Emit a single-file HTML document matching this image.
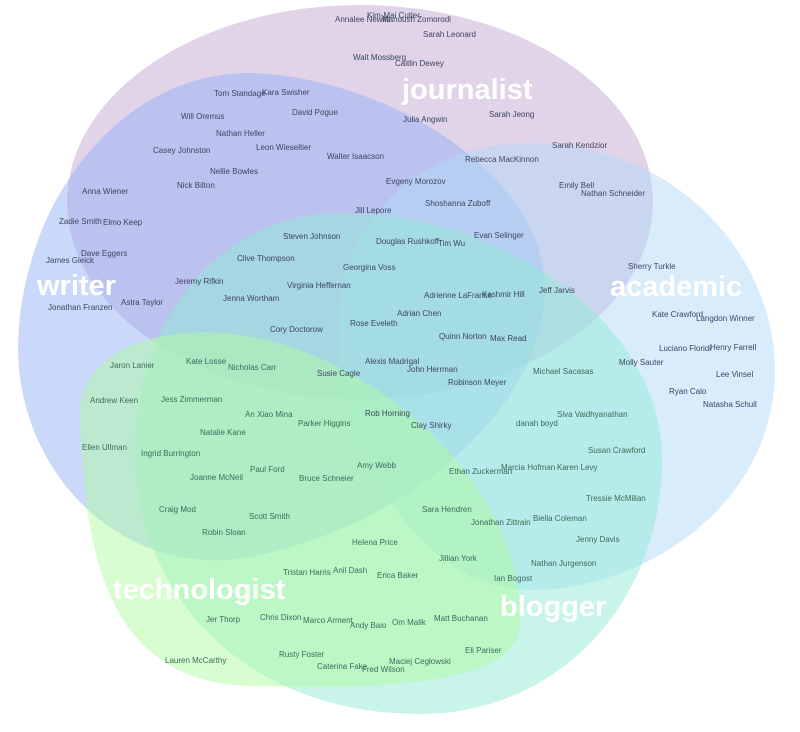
<!DOCTYPE html>
<html><head><meta charset="utf-8"><style>
html,body{margin:0;padding:0;background:#fff;}
svg{display:block;}
text{font-family:"Liberation Sans",sans-serif;}
.n{font-size:8px;fill:#3d4560;}
.g{font-size:8px;fill:#3d6a5a;}
.L{font-size:29px;font-weight:bold;fill:#fff;}
</style></head><body>
<svg width="800" height="732" viewBox="0 0 800 732" xmlns="http://www.w3.org/2000/svg">
<g fill-opacity="0.5">
<ellipse cx="360" cy="202" rx="293" ry="197" fill="rgb(195,168,210)"/>
<path d="M18,350 C18,290 38,225 67,182 C110,115 175,73 250,73 C380,76 545,170 545,290 C545,400 420,520 260,555 C130,585 20,480 18,350 Z" fill="rgb(150,178,246)"/>
<path d="M338,330 C338,220 420,143 530,143 C680,143 775,260 775,370 C775,500 650,590 530,590 C420,590 338,450 338,330 Z" fill="rgb(179,217,247)"/>
<path d="M135,450 C135,320 220,213 340,213 C500,213 662,320 662,460 C662,600 560,714 420,714 C250,714 135,600 135,450 Z" fill="rgb(145,233,213)"/>
<path d="M80,420 C75,340 190,310 300,350 C420,395 525,510 520,625 C515,690 360,688 250,686 C110,682 85,560 80,420 Z" fill="rgb(175,251,161)"/>
</g>
<text class="L" x="402" y="99">journalist</text>
<text class="L" x="37" y="295">writer</text>
<text class="L" x="610" y="296">academic</text>
<text class="L" x="113" y="599">technologist</text>
<text class="L" x="500" y="616">blogger</text>
<g class="n">
<text x="367" y="18">Kim-Mai Cutler</text>
<text x="335" y="22">Annalee Newitz</text>
<text x="382" y="22">Manoush Zomorodi</text>
<text x="423" y="37">Sarah Leonard</text>
<text x="353" y="60">Walt Mossberg</text>
<text x="395" y="66">Caitlin Dewey</text>
<text x="214" y="96">Tom Standage</text>
<text x="262" y="95">Kara Swisher</text>
<text x="292" y="115">David Pogue</text>
<text x="181" y="119">Will Oremus</text>
<text x="403" y="122">Julia Angwin</text>
<text x="489" y="117">Sarah  Jeong</text>
<text x="216" y="136">Nathan Heller</text>
<text x="153" y="153">Casey Johnston</text>
<text x="256" y="150">Leon Wieseltier</text>
<text x="327" y="159">Walter Isaacson</text>
<text x="465" y="162">Rebecca MacKinnon</text>
<text x="552" y="148">Sarah Kendzior</text>
<text x="210" y="174">Nellie Bowles</text>
<text x="177" y="188">Nick Bilton</text>
<text x="386" y="184">Evgeny Morozov</text>
<text x="559" y="188">Emily Bell</text>
<text x="581" y="196">Nathan  Schneider</text>
<text x="82" y="194">Anna Wiener</text>
<text x="425" y="206">Shoshanna Zuboff</text>
<text x="355" y="213">Jill Lepore</text>
<text x="59" y="224">Zadie Smith</text>
<text x="103" y="225">Elmo Keep</text>
<text x="283" y="239">Steven Johnson</text>
<text x="474" y="238">Evan Selinger</text>
<text x="376" y="244">Douglas Rushkoff</text>
<text x="438" y="246">Tim Wu</text>
<text x="81" y="256">Dave Eggers</text>
<text x="46" y="263">James Gleick</text>
<text x="237" y="261">Clive Thompson</text>
<text x="343" y="270">Georgina Voss</text>
<text x="628" y="269">Sherry Turkle</text>
<text x="175" y="284">Jeremy Rifkin</text>
<text x="287" y="288">Virginia Heffernan</text>
<text x="539" y="293">Jeff Jarvis</text>
<text x="424" y="298">Adrienne LaFrance</text>
<text x="482" y="297">Kashmir Hill</text>
<text x="223" y="301">Jenna Wortham</text>
<text x="121" y="305">Astra Taylor</text>
<text x="48" y="310">Jonathan Franzen</text>
<text x="652" y="317">Kate Crawford</text>
<text x="696" y="321">Langdon Winner</text>
<text x="397" y="316">Adrian Chen</text>
<text x="350" y="326">Rose Eveleth</text>
<text x="270" y="332">Cory Doctorow</text>
<text x="439" y="339">Quinn Norton</text>
<text x="490" y="341">Max Read</text>
<text x="659" y="351">Luciano Floridi</text>
<text x="710" y="350">Henry Farrell</text>
<text x="365" y="364">Alexis Madrigal</text>
<text x="407" y="372">John Herrman</text>
<text x="317" y="376">Susie Cagle</text>
<text x="619" y="365">Molly Sauter</text>
<text x="716" y="377">Lee Vinsel</text>
<text x="448" y="385">Robinson Meyer</text>
<text x="669" y="394">Ryan Calo</text>
<text x="703" y="407">Natasha Schull</text>
<text x="365" y="416">Rob  Horning</text>
<text x="411" y="428">Clay Shirky</text>
</g>
<g class="g">
<text x="110" y="368">Jaron Lanier</text>
<text x="186" y="364">Kate Losse</text>
<text x="228" y="370">Nicholas Carr</text>
<text x="533" y="374">Michael Sacasas</text>
<text x="90" y="403">Andrew Keen</text>
<text x="161" y="402">Jess Zimmerman</text>
<text x="245" y="417">An Xiao Mina</text>
<text x="557" y="417">Siva Vaidhyanathan</text>
<text x="298" y="426">Parker Higgins</text>
<text x="516" y="426">danah boyd</text>
<text x="200" y="435">Natalie Kane</text>
<text x="82" y="450">Ellen Ullman</text>
<text x="588" y="453">Susan Crawford</text>
<text x="141" y="456">Ingrid Burrington</text>
<text x="250" y="472">Paul Ford</text>
<text x="357" y="468">Amy  Webb</text>
<text x="501" y="470">Marcia Hofman</text>
<text x="557" y="470">Karen Levy</text>
<text x="449" y="474">Ethan Zuckerman</text>
<text x="190" y="480">Joanne McNeil</text>
<text x="299" y="481">Bruce Schneier</text>
<text x="586" y="501">Tressie McMillan</text>
<text x="159" y="512">Craig Mod</text>
<text x="422" y="512">Sara Hendren</text>
<text x="249" y="519">Scott Smith</text>
<text x="471" y="525">Jonathan Zittrain</text>
<text x="533" y="521">Biella Coleman</text>
<text x="202" y="535">Robin Sloan</text>
<text x="576" y="542">Jenny Davis</text>
<text x="352" y="545">Helena Price</text>
<text x="439" y="561">Jillian York</text>
<text x="531" y="566">Nathan  Jurgenson</text>
<text x="283" y="575">Tristan Harris</text>
<text x="333" y="573">Anil Dash</text>
<text x="377" y="578">Erica Baker</text>
<text x="494" y="581">Ian Bogost</text>
<text x="206" y="622">Jer Thorp</text>
<text x="260" y="620">Chris Dixon</text>
<text x="303" y="623">Marco Arment</text>
<text x="350" y="628">Andy Baio</text>
<text x="392" y="625">Om Malik</text>
<text x="434" y="621">Matt Buchanan</text>
<text x="465" y="653">Eli Pariser</text>
<text x="279" y="657">Rusty Foster</text>
<text x="389" y="664">Maciej  Cegłowski</text>
<text x="317" y="669">Caterina Fake</text>
<text x="362" y="672">Fred Wilson</text>
<text x="165" y="663">Lauren McCarthy</text>
</g>
</svg>
</body></html>
